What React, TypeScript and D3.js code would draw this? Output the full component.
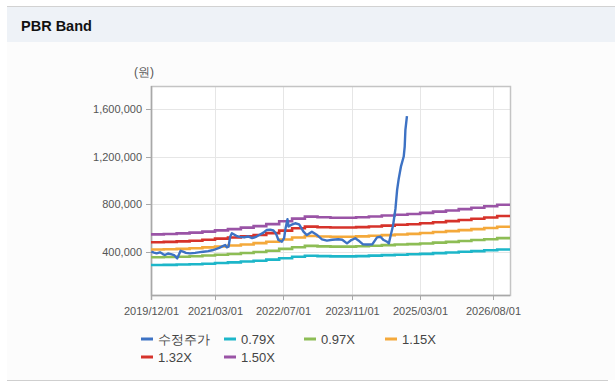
import React from 'react';
import * as d3 from 'd3';

// ---------- data ----------
const xTickDates = ['2019-12-01', '2021-03-01', '2022-07-01', '2023-11-01', '2025-03-01', '2026-08-01'];
const xTickLabels = ['2019/12/01', '2021/03/01', '2022/07/01', '2023/11/01', '2025/03/01', '2026/08/01'];
const yTicks = [400000, 800000, 1200000, 1600000];
const xDomain = ['2019-12-01', '2026-12-01'];
const yDomain = [36000, 1793000];

const bandDates = [
  '2019-12-01', '2020-03-01', '2020-06-01', '2020-09-01', '2020-12-01', '2021-03-01', '2021-06-01',
  '2021-09-01', '2021-12-01', '2022-03-01', '2022-06-01', '2022-09-01', '2022-12-01', '2023-03-01',
  '2023-06-01', '2023-09-01', '2023-12-01', '2024-03-01', '2024-06-01', '2024-09-01', '2024-12-01',
  '2025-03-01', '2025-06-01', '2025-09-01', '2025-12-01', '2026-03-01', '2026-06-01', '2026-09-01',
  '2026-12-01',
];
const band079 = [288000, 289000, 292000, 295000, 299000, 305000, 310000, 317000, 324000, 333000, 345000, 357000, 366000, 363000, 361000, 361000, 363000, 367000, 371000, 374000, 378000, 382000, 388000, 393000, 399000, 405000, 412000, 419000, 419000];
const band097 = [353000, 355000, 358000, 362000, 368000, 374000, 381000, 389000, 398000, 408000, 424000, 438000, 449000, 445000, 443000, 443000, 446000, 450000, 455000, 460000, 464000, 469000, 476000, 483000, 490000, 498000, 505000, 514000, 514000];
const band115 = [419000, 421000, 424000, 429000, 436000, 444000, 452000, 461000, 472000, 484000, 503000, 520000, 532000, 528000, 526000, 526000, 529000, 534000, 539000, 545000, 550000, 557000, 565000, 573000, 581000, 590000, 599000, 610000, 610000];
const band132 = [480000, 483000, 487000, 492000, 500000, 510000, 519000, 529000, 541000, 556000, 577000, 597000, 611000, 606000, 603000, 603000, 607000, 612000, 619000, 626000, 631000, 639000, 648000, 657000, 667000, 677000, 688000, 700000, 700000];
const band150 = [546000, 549000, 554000, 560000, 569000, 579000, 590000, 602000, 615000, 632000, 656000, 678000, 695000, 689000, 686000, 686000, 690000, 696000, 704000, 711000, 717000, 726000, 737000, 747000, 758000, 770000, 782000, 795000, 795000];

const priceDates = [
  '2019-12-04', '2019-12-22', '2020-01-10', '2020-02-03', '2020-02-24', '2020-03-09', '2020-03-31',
  '2020-04-21', '2020-05-13', '2020-06-05', '2020-06-29', '2020-07-16', '2020-08-06', '2020-09-04',
  '2020-10-10', '2020-11-14', '2020-12-08', '2021-01-11', '2021-02-09', '2021-03-02', '2021-03-31',
  '2021-04-21', '2021-05-12', '2021-05-24', '2021-06-05', '2021-06-17', '2021-06-29', '2021-07-15',
  '2021-08-05', '2021-08-26', '2021-09-24', '2021-10-22', '2021-11-20', '2021-12-19', '2022-01-16',
  '2022-02-09', '2022-03-05', '2022-03-29', '2022-04-21', '2022-05-10', '2022-05-27', '2022-06-20',
  '2022-07-06', '2022-07-17', '2022-07-30', '2022-08-07', '2022-08-25', '2022-09-23', '2022-10-21',
  '2022-11-21', '2022-12-15', '2023-01-20', '2023-02-20', '2023-04-02', '2023-05-07', '2023-06-14',
  '2023-07-27', '2023-08-24', '2023-09-27', '2023-10-28', '2023-11-25', '2023-12-17', '2024-01-19',
  '2024-02-19', '2024-03-25', '2024-04-28', '2024-05-22', '2024-06-14', '2024-07-08', '2024-07-21',
  '2024-08-01', '2024-08-20', '2024-09-06', '2024-09-18', '2024-09-29', '2024-10-16', '2024-11-04',
  '2024-11-11', '2024-11-16', '2024-11-27',
];
const priceValues = [
  400000, 392000, 386000, 395000, 380000, 372000, 385000,
  380000, 372000, 344000, 408000, 400000, 390000, 386000,
  390000, 396000, 400000, 405000, 412000, 420000, 432000,
  445000, 456000, 437000, 442000, 526000, 555000, 545000,
  530000, 525000, 520000, 528000, 515000, 525000, 545000,
  560000, 583000, 585000, 578000, 550000, 498000, 484000,
  515000, 600000, 673000, 611000, 625000, 639000, 630000,
  568000, 540000, 568000, 545000, 504000, 493000, 500000,
  505000, 500000, 470000, 498000, 513000, 495000, 462000,
  460000, 462000, 521000, 526000, 498000, 484000, 470000,
  526000, 620000, 760000, 920000, 1010000, 1120000, 1200000,
  1284000, 1425000, 1540000,
];

const seriesLabels = ['수정주가', '0.79X', '0.97X', '1.15X', '1.32X', '1.50X'];
const seriesColors = ['#3d72c4', '#1db6c9', '#8dbd55', '#f4a93b', '#d6332b', '#9a54a6'];

// ---------- layout ----------
const W = 615;
const H = 385;
const plot = { left: 151, right: 510, top: 86, bottom: 295 };
const FONT = '"Liberation Sans", Arial, sans-serif';

export default function App() {
  const parse = d3.utcParse('%Y-%m-%d');
  const x = d3.scaleUtc().domain(xDomain.map((d) => parse(d) as Date)).range([plot.left, plot.right]);
  const y = d3.scaleLinear().domain(yDomain).range([plot.bottom, plot.top]);
  const fmt = d3.format(',');

  const stepLine = d3
    .line<[Date, number]>()
    .x((d) => x(d[0]))
    .y((d) => y(d[1]))
    .curve(d3.curveStepAfter);
  const linLine = d3
    .line<[Date, number]>()
    .x((d) => x(d[0]))
    .y((d) => y(d[1]));

  const bands = [band079, band097, band115, band132, band150];
  const bandPaths = bands.map((b) =>
    stepLine(bandDates.map((d, i) => [parse(d) as Date, b[i]] as [Date, number])) || ''
  );
  const pricePath = linLine(priceDates.map((d, i) => [parse(d) as Date, priceValues[i]] as [Date, number])) || '';

  const legendPos = [
    [141, 339],
    [224, 339],
    [304, 339],
    [385, 339],
    [141, 357],
    [224, 357],
  ];

  return (
    <div style={{ position: 'absolute', left: 0, top: 0 }}>
      <svg width={W} height={H} style={{ display: 'block' }}>
        <rect x={0} y={0} width={W} height={H} fill="#ffffff" />
        <rect x={7} y={7} width={W - 7} height={35} fill="#eef2f7" />
        <rect x={7} y={42} width={W - 7} height={338} fill="#fcfcfc" />
        <line x1={7} x2={W} y1={6.5} y2={6.5} stroke="#d2d2d2" />
        <line x1={7} x2={608} y1={380.5} y2={380.5} stroke="#cfcfcf" />
        <text x={21} y={31} fontFamily={FONT} fontWeight="bold" fontSize={14.5} fill="#111">
          PBR Band
        </text>

        {/* plot background */}
        <rect x={plot.left} y={plot.top} width={plot.right - plot.left} height={plot.bottom - plot.top} fill="#ffffff" />

        {/* grid */}
        {xTickDates.map((d) => {
          const xx = Math.round(x(parse(d) as Date)) + 0.5;
          return <line key={'gx' + d} x1={xx} x2={xx} y1={plot.top} y2={plot.bottom} stroke="#e6e6e6" />;
        })}
        {yTicks.map((v) => {
          const yy = Math.round(y(v)) + 0.5;
          return <line key={'gy' + v} x1={plot.left} x2={plot.right} y1={yy} y2={yy} stroke="#e6e6e6" />;
        })}

        {/* frame */}
        <rect
          x={plot.left + 0.5}
          y={plot.top + 0.5}
          width={plot.right - plot.left}
          height={plot.bottom - plot.top}
          fill="none"
          stroke="#c4c4c4"
          strokeWidth={1.5}
        />
        <line x1={plot.left + 0.5} x2={plot.left + 0.5} y1={plot.top} y2={plot.bottom + 5} stroke="#a8a8a8" strokeWidth={1.5} />
        <line x1={plot.left} x2={plot.right} y1={plot.bottom + 0.5} y2={plot.bottom + 0.5} stroke="#a8a8a8" strokeWidth={1.5} />

        {/* y ticks */}
        {yTicks.map((v) => {
          const yy = Math.round(y(v)) + 0.5;
          return (
            <g key={'yt' + v}>
              <line x1={plot.left - 5} x2={plot.left} y1={yy} y2={yy} stroke="#a8a8a8" />
              <text x={142} y={yy} dy="0.35em" textAnchor="end" fontFamily={FONT} fontSize={11} fill="#555">
                {fmt(v)}
              </text>
            </g>
          );
        })}
        <text x={144} y={72} dy="0.35em" textAnchor="middle" fontFamily={FONT} fontSize={12} fill="#555">
          (원)
        </text>

        {/* x ticks */}
        {xTickDates.map((d, i) => {
          const xx = Math.round(x(parse(d) as Date)) + 0.5;
          return (
            <g key={'xt' + d}>
              <line x1={xx} x2={xx} y1={plot.bottom} y2={plot.bottom + 5} stroke="#a8a8a8" />
              <text x={xx} y={311} dy="0.35em" textAnchor="middle" fontFamily={FONT} fontSize={11} fill="#555">
                {xTickLabels[i]}
              </text>
            </g>
          );
        })}

        {/* series */}
        {bandPaths.map((p, i) => (
          <path key={'band' + i} d={p} fill="none" stroke={seriesColors[i + 1]} strokeWidth={2.6} />
        ))}
        <path d={pricePath} fill="none" stroke={seriesColors[0]} strokeWidth={2.4} strokeLinejoin="round" />

        {/* legend */}
        {seriesLabels.map((s, i) => {
          const [lx, ly] = legendPos[i];
          return (
            <g key={'lg' + s}>
              <line x1={lx} x2={lx + 12} y1={ly} y2={ly} stroke={seriesColors[i]} strokeWidth={3} />
              <text x={lx + 17} y={ly} dy="0.35em" fontFamily={FONT} fontSize={13} fill="#444">
                {s}
              </text>
            </g>
          );
        })}
      </svg>
    </div>
  );
}
